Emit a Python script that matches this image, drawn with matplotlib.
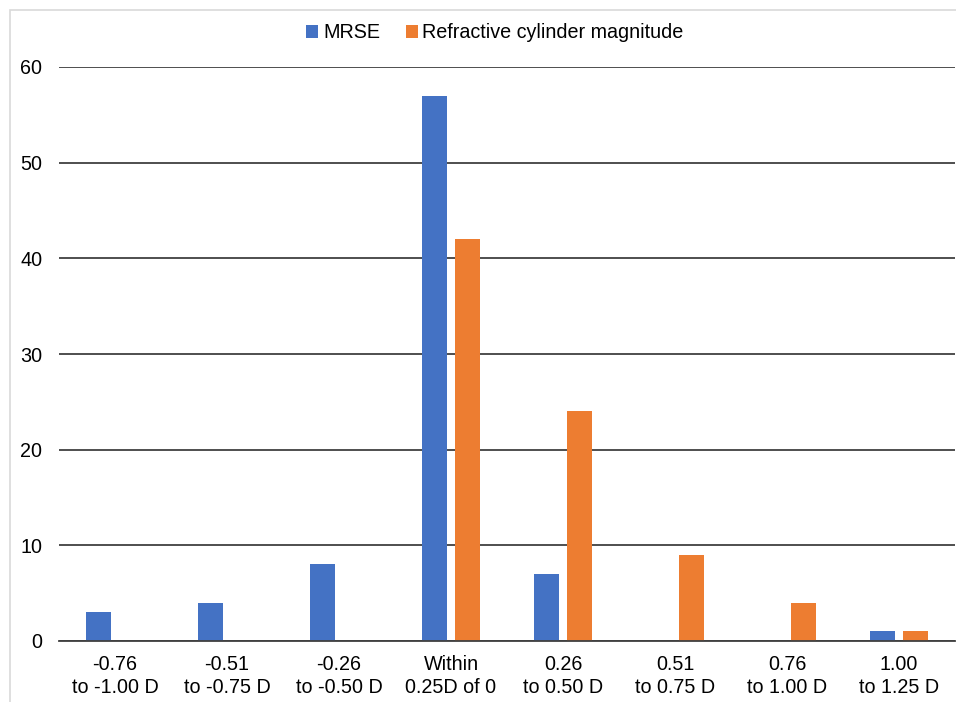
import matplotlib
matplotlib.use("Agg")
import matplotlib.pyplot as plt
import numpy as np
from matplotlib.patches import Rectangle

categories = ["-0.76\nto -1.00 D", "-0.51\nto -0.75 D", "-0.26\nto -0.50 D", "Within\n0.25D of 0",
              "0.26\nto 0.50 D", "0.51\nto 0.75 D", "0.76\nto 1.00 D", "1.00\nto 1.25 D"]
mrse = [3, 4, 8, 57, 7, 0, 0, 1]
cyl = [0, 0, 0, 42, 24, 9, 4, 1]
series_names = ["MRSE", "Refractive cylinder magnitude"]
yticks = [0, 10, 20, 30, 40, 50, 60]

plt.rcParams['font.family'] = ['Liberation Sans', 'DejaVu Sans']
W, H = 956, 702
fs = 14.2
fig = plt.figure(figsize=(W/100, H/100), dpi=100)
ax = fig.add_axes([59/W, 1-641/H, (955-59)/W, (641-67)/H])

x = np.arange(len(categories))
bw = 0.223
off = 0.143
ax.bar(x - off, mrse, bw, color="#4472C4", label=series_names[0], zorder=3)
ax.bar(x + off, cyl, bw, color="#ED7D31", label=series_names[1], zorder=3)

ax.set_xlim(-0.5, len(categories) - 0.5)
ax.set_ylim(0, 60)
ax.set_yticks(yticks)
ax.set_xticks(x)
ax.set_xticklabels(categories, fontsize=fs, linespacing=1.3)
ax.tick_params(axis='y', labelsize=fs, length=0, pad=12)
ax.tick_params(axis='x', length=0, pad=10)
ax.grid(axis='y', color='#404040', linewidth=1.3, zorder=1)
for s in ['top', 'right', 'left']:
    ax.spines[s].set_visible(False)
ax.spines['bottom'].set_color('#404040')
ax.spines['bottom'].set_linewidth(1.3)
ax.spines['bottom'].set_zorder(4)

leg = fig.legend(loc='center', bbox_to_anchor=(495/W, 1-33/H), ncol=2, frameon=False,
                 fontsize=fs, handlelength=0.6, handleheight=0.6, handletextpad=0.25,
                 columnspacing=1.3)

fig.patches.append(Rectangle((10/W, -0.05), 1, 1.05-10/H, transform=fig.transFigure,
                             fill=False, edgecolor='#D9D9D9', linewidth=1.2, zorder=0))

fig.savefig("out.png", dpi=100, facecolor='white')
